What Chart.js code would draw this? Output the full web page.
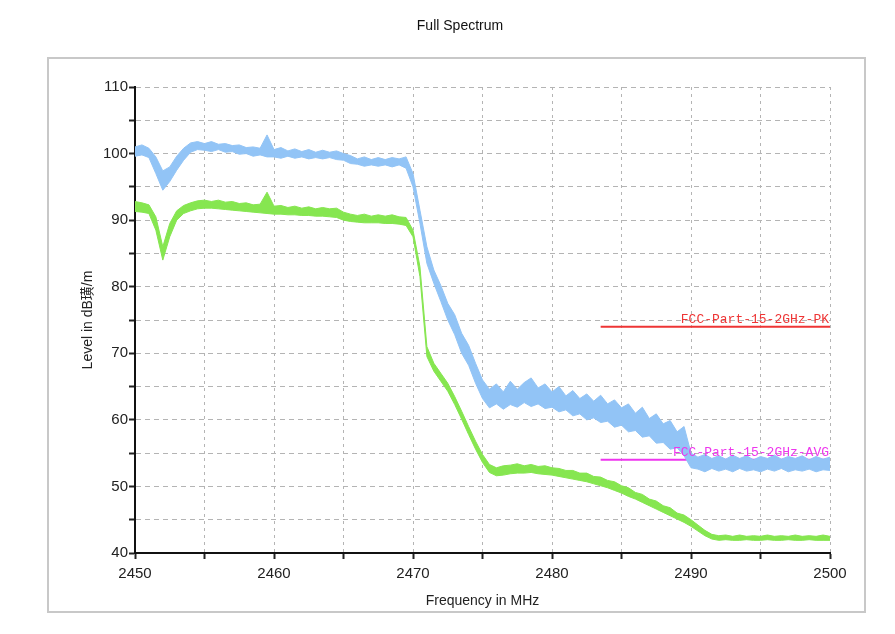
<!DOCTYPE html>
<html>
<head>
<meta charset="utf-8">
<script src="https://cdn.jsdelivr.net/npm/chart.js@4.4.0/dist/chart.umd.min.js"></script>
<style>
  html, body { margin: 0; padding: 0; background: #fff; }
  #wrap { width: 895px; height: 634px; }
</style>
</head>
<body>
<div id="wrap"><canvas id="full_spectrum" width="895" height="634"></canvas></div>
<script>
// sample grid, 0.5 MHz
const freqs = Array.from({ length: 101 }, (_, i) => 2450 + i * 0.5);

// peak trace (blue), upper / lower edge of the noise band
const peakHi = [
  101.0, 101.3, 100.8, 99.5, 97.4, 98.0, 99.6, 100.8, 101.6, 101.8,
  101.5, 101.8, 101.4, 101.5, 101.2, 101.3, 100.9, 101.0, 100.8, 102.8,
  100.6, 100.9, 100.4, 100.7, 100.3, 100.6, 100.2, 100.5, 100.2, 100.4,
  100.0, 99.7, 99.2, 99.5, 99.1, 99.4, 99.1, 99.4, 99.2, 99.5,
  97.0, 91.5, 86.0, 82.5, 80.2, 77.5, 75.8, 73.0, 71.2, 68.5,
  66.0, 64.6, 65.4, 64.2, 65.8, 64.6, 65.6, 66.3, 64.8, 65.4,
  64.2, 65.0, 63.6, 64.4, 63.2, 63.9, 62.8, 63.7, 62.4, 63.0,
  61.8, 62.4, 61.0, 61.9, 60.2, 60.9, 59.4, 59.9, 58.2, 59.0,
  55.0, 54.4, 54.8, 54.2, 54.6, 54.1, 54.7, 54.2, 54.6, 54.0,
  54.5, 54.2, 54.7, 54.1, 54.5, 54.2, 54.6, 54.0, 54.5, 54.1,
  54.4
];
const peakLo = [
  99.6, 99.8, 99.4, 97.0, 94.5, 95.8, 97.5, 99.0, 100.2, 100.6,
  100.5, 100.3, 100.6, 100.2, 100.3, 99.9, 100.0, 99.6, 99.8, 99.5,
  99.5, 99.3, 99.6, 99.3, 99.5, 99.2, 99.4, 99.2, 99.4, 99.1,
  99.0, 98.5, 98.4, 98.1, 98.3, 98.1, 98.3, 98.0, 98.3, 97.8,
  95.0, 89.5, 83.5, 80.5, 77.8, 75.0, 72.8, 70.0, 68.2, 65.5,
  63.2, 61.8, 62.4, 61.6, 62.3, 61.9, 62.6, 62.0, 62.4, 61.7,
  61.9, 61.2, 61.5, 60.6, 60.9, 60.0, 60.3, 59.6, 59.8, 58.9,
  59.2, 58.2, 58.4, 57.4, 57.6, 56.5, 56.6, 55.6, 55.8, 54.6,
  52.8, 52.6, 52.2, 52.7, 52.3, 52.6, 52.2, 52.7, 52.3, 52.5,
  52.2, 52.6, 52.3, 52.7, 52.2, 52.5, 52.3, 52.6, 52.2, 52.5,
  52.4
];

// average trace (green)
const avgHi = [
  92.8, 92.6, 92.3, 90.5, 86.0, 89.5, 91.4, 92.2, 92.6, 92.9,
  93.0, 92.8, 93.0, 92.7, 92.8, 92.5, 92.6, 92.3, 92.4, 94.2,
  92.1, 92.2, 91.9, 92.1, 91.8, 92.0, 91.7, 91.9, 91.7, 91.8,
  91.2, 90.9, 90.7, 90.9, 90.6, 90.8, 90.6, 90.8, 90.5, 90.4,
  88.5, 83.0, 71.0, 68.5, 67.0, 65.5, 63.5, 61.3, 59.0, 56.8,
  54.8, 53.3, 52.8, 53.1, 53.2, 53.4, 53.1, 53.3, 53.0, 53.1,
  52.8, 52.7, 52.4, 52.4, 52.0, 52.0, 51.5, 51.4, 50.9, 50.7,
  50.1, 49.8, 49.1, 48.8, 48.1, 47.8, 47.1, 46.8, 46.0, 45.7,
  45.0, 44.2, 43.4, 42.8, 42.6, 42.7, 42.5, 42.7, 42.5, 42.6,
  42.5, 42.7, 42.5, 42.6, 42.5, 42.7, 42.5, 42.6, 42.5, 42.7,
  42.5
];
const avgLo = [
  91.3, 91.2, 91.0, 88.5, 84.0, 87.5, 90.0, 91.0, 91.4, 91.7,
  91.8, 91.8, 91.7, 91.6, 91.5, 91.4, 91.3, 91.2, 91.1, 91.0,
  90.9, 90.9, 90.8, 90.8, 90.7, 90.7, 90.6, 90.6, 90.5, 90.4,
  90.0, 89.8, 89.7, 89.6, 89.6, 89.6, 89.5, 89.5, 89.4, 89.2,
  87.5, 81.5, 69.5, 67.3, 65.8, 64.3, 62.3, 60.1, 57.8, 55.6,
  53.6, 52.1, 51.6, 51.7, 51.9, 52.0, 52.0, 52.1, 51.9, 51.8,
  51.7, 51.5, 51.3, 51.1, 50.9, 50.7, 50.4, 50.1, 49.8, 49.4,
  49.0, 48.5, 48.1, 47.6, 47.1, 46.6, 46.1, 45.6, 45.1, 44.6,
  44.0, 43.3, 42.6, 42.1, 41.9, 42.0, 41.9, 41.9, 42.0, 41.9,
  41.9, 42.0, 41.9, 41.9, 42.0, 41.9, 41.9, 42.0, 41.9, 41.9,
  41.9
];

// limit lines
const limitFreqs = [2483.5, 2500];
const limitPK = [74, 74];
const limitAVG = [54, 54];
const limitNames = ["FCC-Part-15-2GHz-PK", "FCC-Part-15-2GHz-AVG"];

const BLUE = "#92c4f6";
const GREEN = "#86e650";
const RED = "#ee3535";
const MAGENTA = "#ee35ee";

function pts(xs, ys) {
  return xs.map((x, i) => ({ x: x, y: ys[i] }));
}

// frame + title
const framePlugin = {
  id: "frame",
  beforeDraw(chart) {
    const ctx = chart.ctx;
    ctx.save();
    ctx.fillStyle = "#fff";
    ctx.fillRect(0, 0, chart.width, chart.height);
    ctx.strokeStyle = "#c8c8c8";
    ctx.lineWidth = 2;
    ctx.strokeRect(48, 58, 817, 554);
    ctx.fillStyle = "#111";
    ctx.font = "14px 'Liberation Sans', Arial, sans-serif";
    ctx.textAlign = "center";
    ctx.textBaseline = "middle";
    ctx.fillText("Full Spectrum", 460, 26);
    ctx.restore();
  },
};

// text labels on the limit lines
const limitLabelPlugin = {
  id: "limitLabels",
  afterDatasetsDraw(chart) {
    const ctx = chart.ctx;
    const xs = chart.scales.x;
    const ys = chart.scales.y;
    const right = xs.getPixelForValue(limitFreqs[1]) - 1;
    ctx.save();
    ctx.font = "13px 'Liberation Mono', 'Courier New', monospace";
    ctx.textAlign = "right";
    ctx.textBaseline = "bottom";
    ctx.fillStyle = RED;
    ctx.fillText(limitNames[0], right, ys.getPixelForValue(limitPK[0]) - 1);
    ctx.fillStyle = MAGENTA;
    ctx.fillText(limitNames[1], right, ys.getPixelForValue(limitAVG[0]) - 1);
    ctx.restore();
  },
};

const ctx = document.getElementById("full_spectrum").getContext("2d");

const chart = new Chart(ctx, {
  type: "line",
  data: {
    datasets: [
      {
        data: pts(freqs, peakHi),
        borderColor: BLUE,
        borderWidth: 1,
        pointRadius: 0,
        fill: false,
      },
      {
        data: pts(freqs, peakLo),
        borderColor: BLUE,
        backgroundColor: BLUE,
        borderWidth: 1,
        pointRadius: 0,
        fill: "-1",
      },
      {
        data: pts(freqs, avgHi),
        borderColor: GREEN,
        borderWidth: 1,
        pointRadius: 0,
        fill: false,
      },
      {
        data: pts(freqs, avgLo),
        borderColor: GREEN,
        backgroundColor: GREEN,
        borderWidth: 1,
        pointRadius: 0,
        fill: "-1",
      },
      {
        data: pts(limitFreqs, limitPK),
        borderColor: RED,
        borderWidth: 2,
        pointRadius: 0,
        fill: false,
      },
      {
        data: pts(limitFreqs, limitAVG),
        borderColor: MAGENTA,
        borderWidth: 2,
        pointRadius: 0,
        fill: false,
      },
    ],
  },
  options: {
    responsive: false,
    animation: false,
    layout: {
      padding: { left: 60, right: 65, top: 87, bottom: 24 },
    },
    plugins: {
      legend: { display: false },
      tooltip: { enabled: false },
    },
    scales: {
      x: {
        type: "linear",
        min: 2450,
        max: 2500,
        afterFit: (scale) => {
          scale.height = 57;
        },
        ticks: {
          stepSize: 5,
          autoSkip: false,
          maxRotation: 0,
          padding: 6,
          color: "#222",
          font: { family: "'Liberation Sans', Arial, sans-serif", size: 15 },
          callback: (v) => (v % 10 === 0 ? v : ""),
        },
        grid: {
          color: "#b4b4b4",
          lineWidth: 1,
          tickLength: 6,
          tickWidth: 2,
          tickColor: "#222",
          tickBorderDash: [],
        },
        border: { display: true, color: "#111", width: 2, dash: [3, 4] },
        title: {
          display: true,
          text: "Frequency in MHz",
          color: "#222",
          padding: { top: 0, bottom: 0 },
          font: { family: "'Liberation Sans', Arial, sans-serif", size: 14 },
        },
      },
      y: {
        min: 40,
        max: 110,
        afterFit: (scale) => {
          scale.width = 75;
        },
        ticks: {
          stepSize: 5,
          autoSkip: false,
          padding: 1,
          color: "#222",
          font: { family: "'Liberation Sans', Arial, sans-serif", size: 15 },
          callback: (v) => (v % 10 === 0 ? v : ""),
        },
        grid: {
          color: "#b4b4b4",
          lineWidth: 1,
          tickLength: 6,
          tickWidth: 2,
          tickColor: "#222",
          tickBorderDash: [],
        },
        border: { display: true, color: "#111", width: 2, dash: [5, 4] },
        title: {
          display: true,
          text: "Level in dB璜/m",
          color: "#222",
          padding: { top: 20, bottom: 0 },
          font: { family: "'Liberation Sans', Arial, 'Noto Sans CJK SC', sans-serif", size: 14 },
        },
      },
    },
  },
  plugins: [framePlugin, limitLabelPlugin],
});
</script>
</body>
</html>
